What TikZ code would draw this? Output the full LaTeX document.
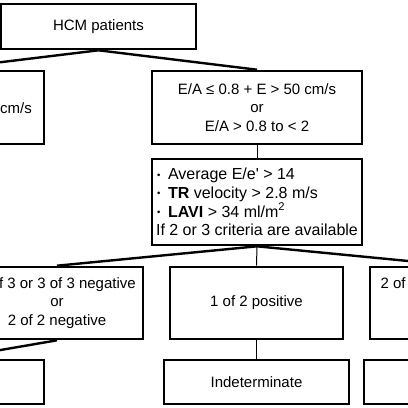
\documentclass[tikz,border=0pt]{standalone}
\usepackage{fontspec}
\setmainfont{Liberation Sans}
\newcommand\bul{\makebox[12pt][l]{\hspace{1pt}\raisebox{1.5pt}{\fontsize{9.5}{9.5}\selectfont •}}}
\begin{document}
\begin{tikzpicture}[x=1pt,y=-1pt,
  txt/.style={inner sep=0pt, align=center, font=\fontsize{15}{18.5}\selectfont},
  box/.style={txt, draw, line width=2.6pt},
  link/.style={line width=2.4pt},
  thinlink/.style={line width=1pt}]
\useasboundingbox (0,0) rectangle (408,408);
\clip (0,0) rectangle (408,408);
% row 1
\node[box, minimum width=195pt, minimum height=45pt] (hcm) at (98.5,26.5) {HCM patients};
% row 2
\node[box, minimum width=210pt, minimum height=73pt] (lt) at (-61,107.5) {};
\node[txt, anchor=east] (ltt) at (32,108) {cm/s};
\node[box, minimum width=210pt, minimum height=73pt] (ea) at (257,107.5)
  {E/A ≤ 0.8 + E > 50 cm/s\\or\\E/A > 0.8 to < 2};
% row 3
\node[box, minimum width=210pt, minimum height=86pt, align=left,
  font=\fontsize{16}{18.6}\selectfont] (crit) at (257,202)
  {\bul Average E/e\textquotesingle{} > 14\\
   \bul\textbf{TR} velocity > 2.8 m/s\\
   \bul\textbf{LAVI} > 34 ml/m\textsuperscript{2}\\
   If 2 or 3 criteria are available};
% row 4
\node[box, minimum width=172pt, minimum height=72pt] (lm) at (57,303)
  {2 of 3 or 3 of 3 negative\\or\\2 of 2 negative};
\node[box, minimum width=173pt, minimum height=72pt] (mm) at (256.5,303) {1 of 2 positive};
\node[box, minimum width=173pt, minimum height=72pt] (rm) at (456.5,303)
  {2 of 3 or 3 of 3 positive\\or\\2 of 2 positive};
% row 5
\node[box, minimum width=188pt, minimum height=44pt] (bl) at (-50,382) {};
\node[box, minimum width=185pt, minimum height=44pt] (ind) at (256.5,382) {Indeterminate};
\node[box, minimum width=185pt, minimum height=44pt] (br) at (456.5,382) {};
% connectors
\draw[link] (hcm.south) -- (lt.north);
\draw[link] (hcm.south) -- (ea.north);
\draw[thinlink] (ea.south) -- (crit.north);
\draw[link] (crit.south) -- (lm.north);
\draw[thinlink] (crit.south) -- (mm.north);
\draw[link] (crit.south) -- (rm.north);
\draw[link] (lm.south) -- (bl.north);
\draw[thinlink] (mm.south) -- (ind.north);
\draw[thinlink] (rm.south) -- (br.north);
\end{tikzpicture}
\end{document}
